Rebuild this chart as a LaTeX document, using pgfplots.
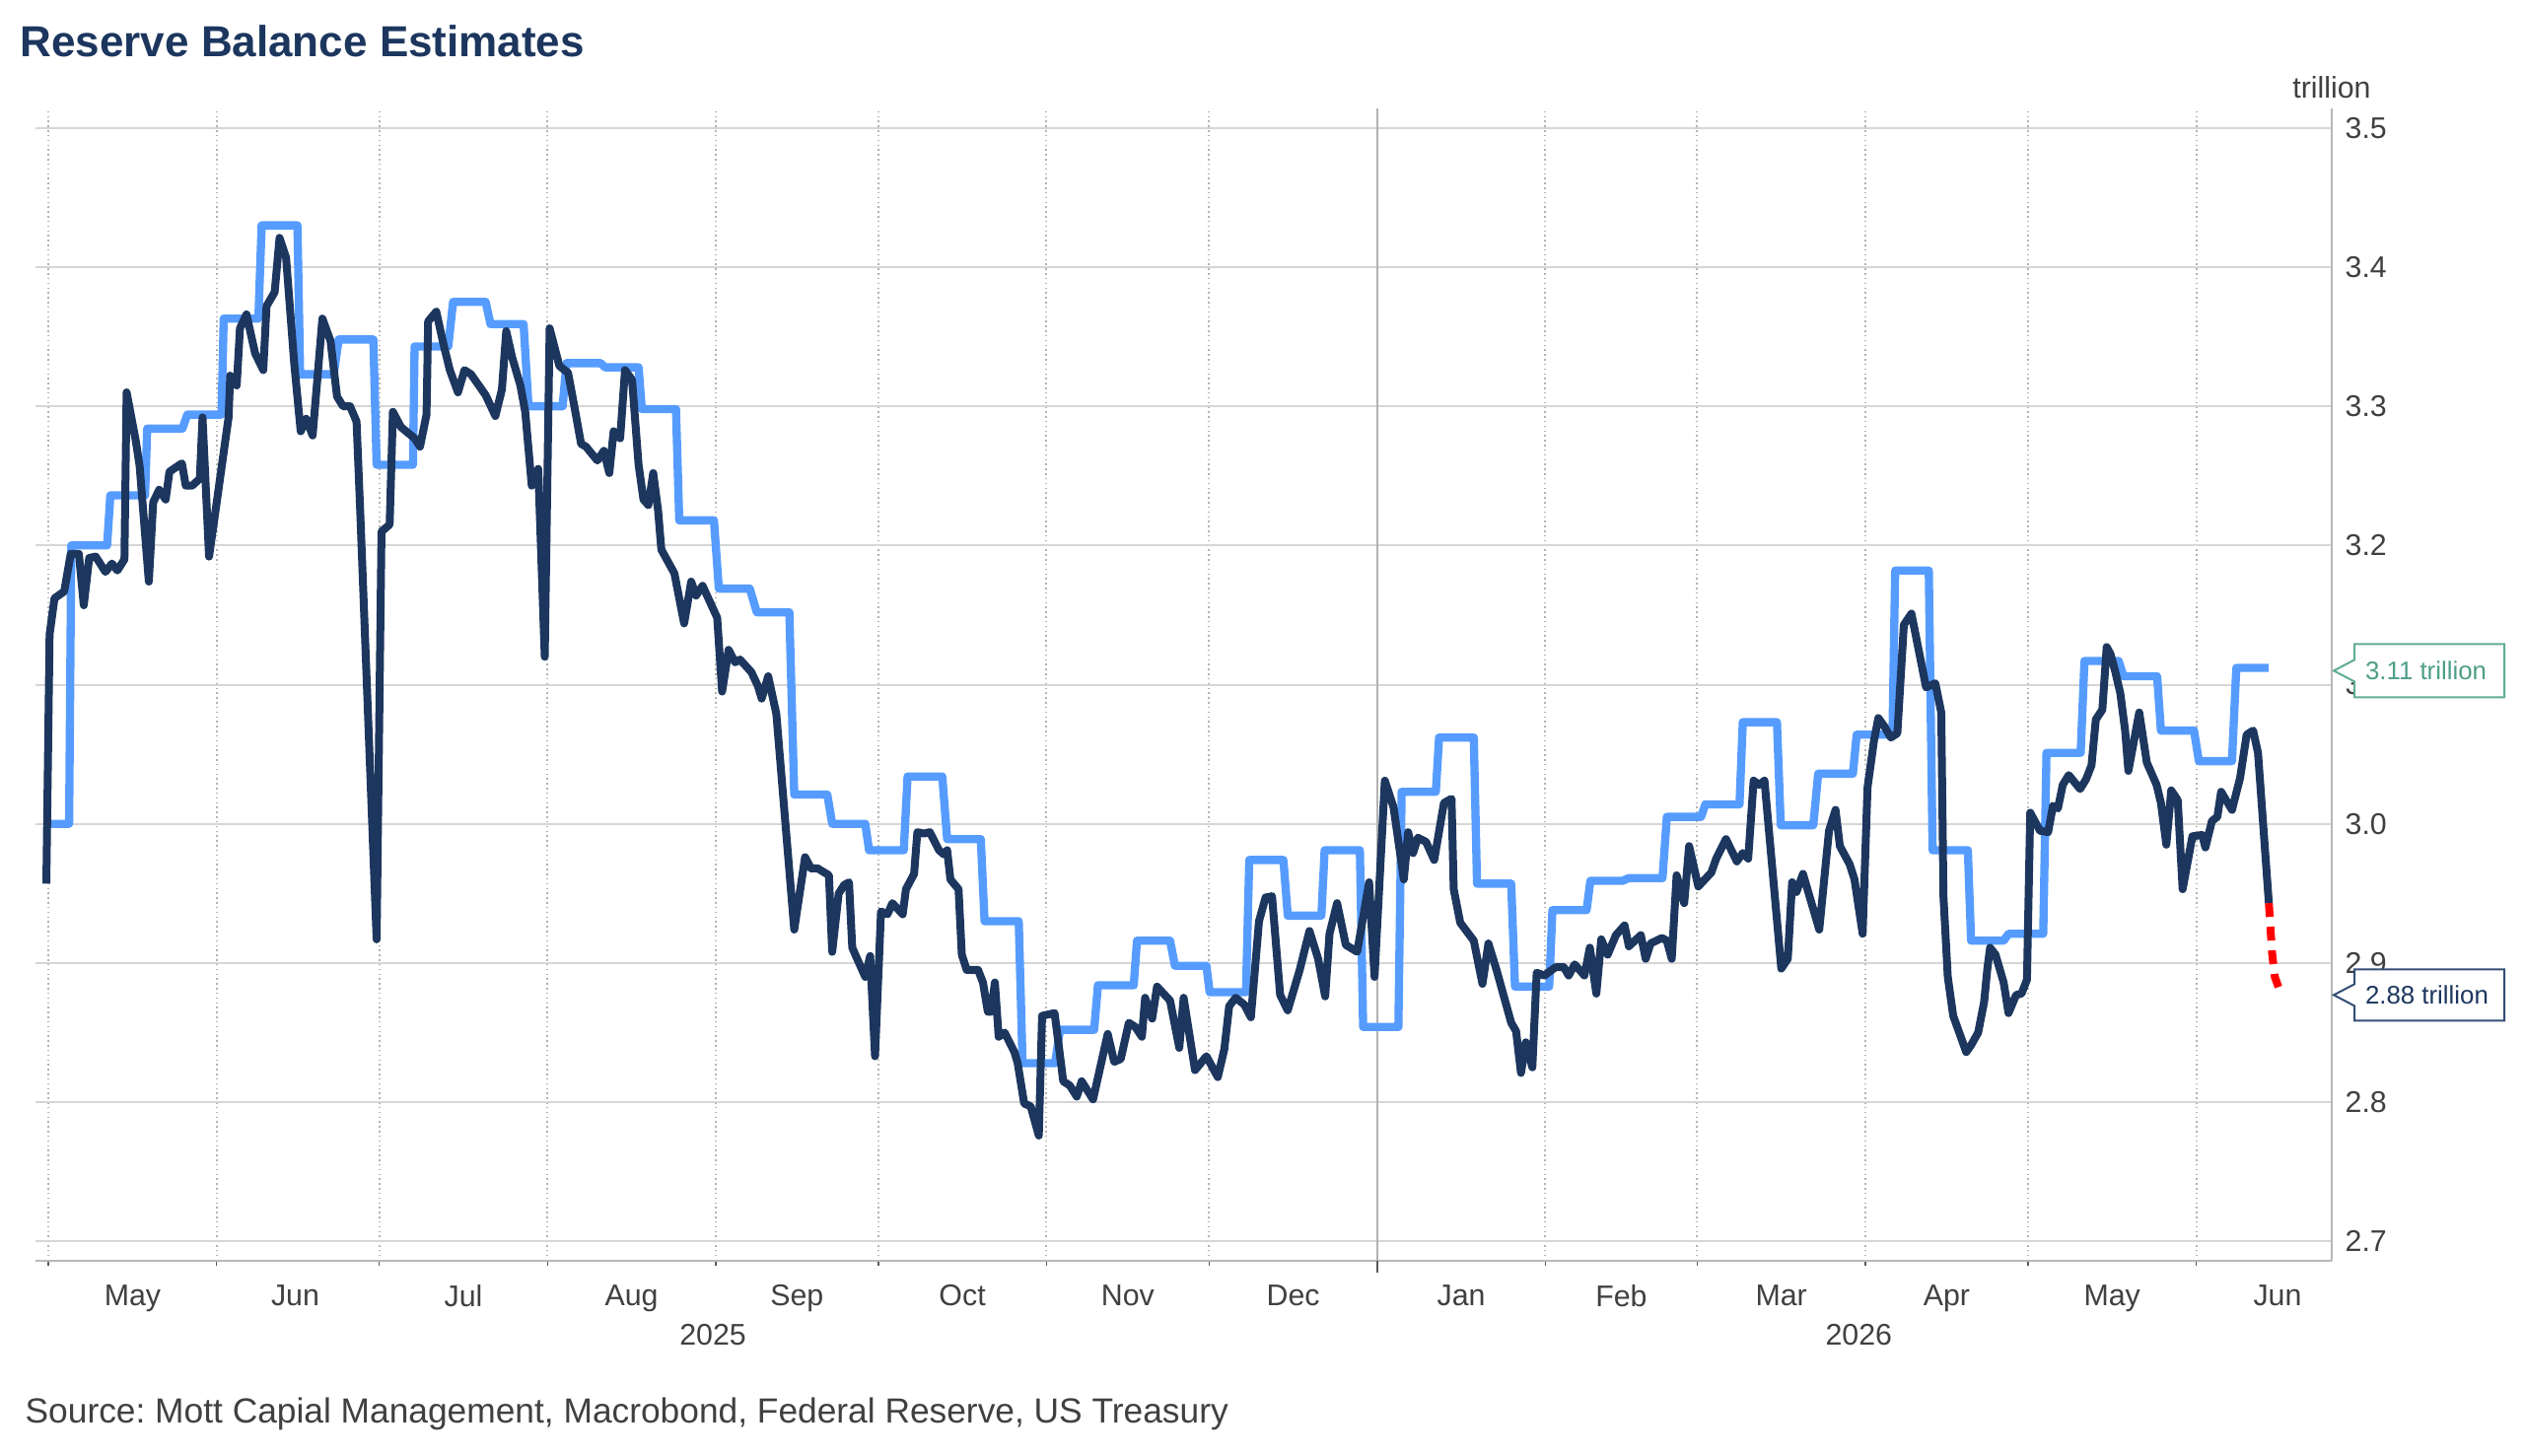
\documentclass[border=0pt]{standalone}
\usepackage{pgfplots}
\pgfplotsset{compat=1.18}
\usepackage{fontspec}
\setmainfont{Liberation Sans}
\frenchspacing
\definecolor{navy}{RGB}{28,54,94}
\definecolor{lblue}{RGB}{86,156,255}
\definecolor{gridc}{RGB}{214,214,214}
\definecolor{txt}{RGB}{64,64,64}
\definecolor{tealc}{RGB}{96,172,150}
\definecolor{tealt}{RGB}{78,158,136}
\definecolor{navyb}{RGB}{52,78,118}
\newcommand{\tickfont}{\fontsize{9.1}{11}\selectfont}
\begin{document}
\begin{tikzpicture}
\path[use as bounding box] (-10.8pt,-59.1pt) rectangle (757.2pt,383.7pt);
\begin{axis}[
  at={(0,0)}, anchor=south west,
  scale only axis, width=698.7pt, height=350.7pt,
  xmin=-2.4, xmax=421, ymin=2.686, ymax=3.514,
  axis x line=bottom, axis y line=right,
  x axis line style={-, draw=black!28, line width=0.6pt},
  y axis line style={-, draw=black!28, line width=0.6pt},
  xtick={15.5,45.5,76.5,107.5,138,168.5,199,229.5,260.5,290,319.5,350,380.5,411},
  xticklabels={May,Jun,Jul,Aug,Sep,Oct,Nov,Dec,Jan,Feb,Mar,Apr,May,Jun},
  minor xtick={0,31,61,92,123,153,184,214,245,276,304,335,365,396},
  ytick={2.7,2.8,2.9,3.0,3.1,3.2,3.3,3.4,3.5},
  tick align=outside,
  major tick length=0pt, minor tick length=1.6pt,
  minor tick style={draw=black!65, line width=0.45pt},
  xminorgrids=true, ymajorgrids=true, xmajorgrids=false,
  minor x grid style={draw=black!30, line width=0.6pt, dash pattern=on 0.45pt off 1pt},
  y grid style={draw=gridc, line width=0.6pt},
  /pgf/number format/assume math mode=true,
  yticklabel style={anchor=west, inner sep=0pt, xshift=3.9pt, font=\tickfont, text=txt,
    /pgf/number format/fixed, /pgf/number format/fixed zerofill, /pgf/number format/precision=1},
  xticklabel style={anchor=north, inner sep=0pt, yshift=-7.2pt, font=\tickfont, text=txt},
]
\draw[draw=black!30, line width=0.6pt] (axis cs:245,2.686) -- (axis cs:245,3.514);
\coordinate (janB) at (axis cs:245,2.686);
\coordinate (yr1) at (axis cs:122.5,2.686);
\coordinate (yr2) at (axis cs:333.8,2.686);
\coordinate (tA) at (axis cs:421,3.11);
\coordinate (tB) at (axis cs:421,2.877);
\coordinate (trl) at (axis cs:421,3.514);
% weekly estimate (light blue)
\addplot[color=lblue, line width=2.5pt, line join=round] coordinates {
(-0.4,3.0) (3.8,3.0) (4.2,3.2) (10.8,3.2) (11.4,3.236) (17.8,3.236) (18.2,3.284) (24.7,3.284)
(25.6,3.294) (31.9,3.294) (32.3,3.363) (38.7,3.363) (39.3,3.43) (45.9,3.43) (46.4,3.323) (52.6,3.323)
(53.5,3.348) (59.9,3.348) (60.5,3.258) (67.2,3.258) (67.5,3.343) (73.7,3.343) (74.6,3.375) (80.6,3.375)
(81.5,3.359) (87.6,3.359) (88.5,3.3) (94.8,3.3) (95.5,3.331) (101.8,3.331) (102.6,3.328) (108.8,3.328)
(109.4,3.298) (115.7,3.298) (116.3,3.218) (122.7,3.218) (123.6,3.169) (129.3,3.169) (130.6,3.152) (136.6,3.152)
(137.5,3.021) (143.6,3.021) (144.5,3.0) (150.6,3.0) (151.3,2.981) (157.7,2.981) (158.4,3.034) (164.8,3.034)
(165.7,2.989) (171.9,2.989) (172.6,2.930) (178.9,2.930) (179.6,2.828) (185.6,2.828) (186.5,2.852) (192.8,2.852)
(193.5,2.884) (200.1,2.884) (200.7,2.916) (206.8,2.916) (207.7,2.898) (213.5,2.898) (214.1,2.879) (220.8,2.879)
(221.4,2.974) (227.7,2.974) (228.5,2.934) (234.7,2.934) (235.3,2.981) (241.8,2.981) (242.4,2.854) (248.9,2.854)
(249.5,3.023) (255.8,3.023) (256.4,3.062) (262.8,3.062) (263.4,2.957) (269.7,2.957) (270.4,2.883) (276.7,2.883)
(277.3,2.938) (283.6,2.938) (284.3,2.959) (290.2,2.959) (291.4,2.961) (297.6,2.961) (298.4,3.005) (304.7,3.005)
(305.5,3.014) (311.8,3.014) (312.4,3.073) (318.7,3.073) (319.4,2.999) (325.4,2.999) (326.3,3.036) (332.7,3.036)
(333.4,3.064) (340.0,3.064) (340.5,3.182) (346.7,3.182) (347.4,2.981) (353.9,2.981) (354.5,2.916) (360.5,2.916)
(361.4,2.921) (367.8,2.921) (368.4,3.051) (374.7,3.051) (375.4,3.117) (381.7,3.117) (382.6,3.106) (388.8,3.106)
(389.5,3.067) (395.6,3.067) (396.5,3.045) (402.6,3.045) (403.4,3.112) (409.4,3.112)
};
% reserve balances (dark navy)
\addplot[color=navy, line width=2.4pt, line join=round] coordinates {
(-0.4,2.957) (0.2,3.136) (1.1,3.162) (2.9,3.167) (4.1,3.194) (5.6,3.194) (6.5,3.157) (7.5,3.191)
(8.7,3.192) (10.5,3.181) (11.7,3.187) (12.7,3.182) (14.0,3.190) (14.4,3.310) (16.1,3.275) (16.8,3.257)
(18.5,3.174) (19.3,3.231) (20.4,3.240) (21.6,3.233) (22.3,3.253) (24.6,3.259) (25.3,3.243) (26.5,3.243)
(27.9,3.248) (28.4,3.292) (29.6,3.192) (30.8,3.225) (33.2,3.292) (33.5,3.322) (34.7,3.315) (35.3,3.356)
(36.5,3.366) (38.1,3.338) (39.6,3.326) (40.2,3.372) (41.7,3.382) (42.6,3.421) (43.8,3.407) (45.3,3.331)
(46.5,3.282) (47.5,3.291) (48.7,3.279) (50.5,3.363) (52.0,3.347) (53.2,3.307) (54.3,3.300) (55.6,3.300)
(56.8,3.289) (57.5,3.222) (60.5,2.917) (61.4,3.210) (62.9,3.215) (63.5,3.296) (65.0,3.285) (67.5,3.277)
(68.5,3.271) (69.7,3.294) (70.0,3.361) (71.5,3.368) (72.8,3.345) (74.0,3.326) (75.5,3.310) (76.7,3.326)
(77.9,3.323) (80.6,3.308) (82.4,3.293) (83.6,3.312) (84.4,3.354) (85.5,3.335) (87.0,3.315) (87.9,3.296)
(89.1,3.243) (90.3,3.255) (91.5,3.120) (92.4,3.356) (94.2,3.329) (95.8,3.324) (97.0,3.299) (98.2,3.273)
(99.1,3.271) (101.2,3.261) (102.4,3.268) (103.4,3.252) (104.2,3.282) (105.4,3.277) (106.3,3.326) (107.6,3.319)
(108.8,3.258) (109.7,3.233) (110.6,3.229) (111.5,3.252) (112.4,3.225) (113.0,3.197) (115.4,3.180) (117.2,3.144)
(118.5,3.174) (119.4,3.164) (120.6,3.171) (123.3,3.148) (124.2,3.095) (125.4,3.125) (126.6,3.116) (127.5,3.118)
(129.6,3.109) (130.8,3.099) (131.5,3.090) (132.7,3.106) (134.2,3.079) (137.5,2.924) (139.5,2.976) (140.6,2.968)
(141.8,2.968) (143.9,2.963) (144.5,2.908) (145.7,2.950) (146.7,2.956) (147.6,2.958) (148.2,2.911) (149.1,2.903)
(150.6,2.890) (151.5,2.905) (152.4,2.833) (153.5,2.937) (154.7,2.935) (155.6,2.943) (157.5,2.935) (158.1,2.953)
(159.6,2.964) (160.2,2.994) (161.4,2.993) (162.5,2.994) (164.2,2.981) (165.1,2.978) (165.7,2.981) (166.3,2.960)
(167.8,2.953) (168.4,2.906) (169.3,2.895) (171.4,2.895) (172.3,2.886) (173.2,2.865) (173.8,2.865) (174.5,2.886)
(175.2,2.847) (176.3,2.850) (178.1,2.836) (178.7,2.828) (179.9,2.799) (181.1,2.797) (182.6,2.776) (183.2,2.862)
(185.5,2.864) (186.2,2.843) (187.1,2.815) (188.3,2.812) (189.6,2.804) (190.5,2.815) (192.6,2.802) (195.3,2.849)
(196.5,2.829) (197.7,2.831) (199.2,2.857) (200.4,2.854) (201.6,2.847) (202.2,2.875) (203.5,2.860) (204.4,2.883)
(206.8,2.873) (208.5,2.839) (209.3,2.875) (211.4,2.823) (213.5,2.833) (215.6,2.818) (216.8,2.838) (217.7,2.869)
(218.9,2.875) (220.5,2.870) (221.7,2.861) (223.2,2.930) (224.4,2.947) (225.6,2.948) (227.1,2.877) (228.5,2.866)
(230.7,2.895) (232.5,2.923) (234.1,2.903) (235.4,2.876) (236.2,2.921) (237.6,2.943) (239.2,2.913) (241.3,2.908)
(243.5,2.958) (244.5,2.890) (246.4,3.031) (248.0,3.012) (249.9,2.960) (250.7,2.994) (251.6,2.979) (252.5,2.990)
(254.0,2.987) (255.5,2.974) (257.3,3.015) (258.7,3.018) (259.1,2.953) (260.3,2.929) (262.8,2.916) (264.4,2.885)
(265.5,2.914) (267.0,2.895) (269.7,2.857) (270.6,2.851) (271.5,2.821) (272.4,2.843) (273.6,2.825) (274.4,2.893)
(275.8,2.891) (277.9,2.897) (279.4,2.897) (280.3,2.891) (281.4,2.899) (283.2,2.891) (284.2,2.911) (285.4,2.878)
(286.3,2.917) (287.5,2.906) (289.0,2.920) (290.6,2.927) (291.4,2.912) (293.6,2.920) (294.5,2.903) (295.4,2.914)
(297.5,2.918) (298.4,2.916) (299.3,2.903) (300.2,2.963) (301.6,2.943) (302.5,2.984) (304.2,2.955) (306.6,2.965)
(307.5,2.975) (309.3,2.989) (311.3,2.973) (312.4,2.979) (313.4,2.975) (314.4,3.031) (315.4,3.028) (316.4,3.031)
(319.5,2.896) (320.7,2.903) (321.5,2.958) (322.3,2.951) (323.5,2.964) (326.5,2.924) (328.3,2.995) (329.5,3.010)
(330.3,2.984) (332.1,2.971) (333.0,2.960) (334.5,2.921) (335.4,3.026) (336.6,3.060) (337.4,3.076) (338.5,3.070)
(339.7,3.062) (340.9,3.065) (342.1,3.143) (343.5,3.151) (346.2,3.098) (347.9,3.101) (349.0,3.080) (349.4,2.948)
(350.2,2.890) (351.2,2.862) (352.5,2.848) (353.6,2.836) (354.5,2.841) (355.8,2.850) (356.9,2.872) (357.5,2.896)
(358.0,2.911) (359.0,2.906) (360.5,2.886) (361.4,2.864) (362.8,2.877) (363.8,2.878) (364.8,2.888) (365.4,3.008)
(367.2,2.995) (368.7,2.994) (369.6,3.013) (370.5,3.011) (371.4,3.028) (372.5,3.035) (374.6,3.025) (375.7,3.032)
(376.7,3.042) (377.5,3.075) (378.7,3.082) (379.5,3.127) (380.2,3.122) (381.1,3.109) (382.0,3.094) (382.9,3.067)
(383.5,3.038) (385.5,3.080) (386.9,3.044) (388.7,3.028) (389.5,3.015) (390.5,2.985) (391.4,3.024) (392.6,3.017)
(393.5,2.953) (395.3,2.991) (397.1,2.992) (397.7,2.983) (398.9,3.002) (399.9,3.005) (400.6,3.023) (402.6,3.010)
(404.1,3.033) (405.3,3.064) (406.5,3.067) (407.4,3.051) (409.4,2.943)
};
% projection (red dashed)
\addplot[color=red, line width=2.4pt, dash pattern=on 4.2pt off 3pt] coordinates {
(409.4,2.943) (410.0,2.907) (410.5,2.890) (411.7,2.877)
};
\end{axis}
% Jan tick (longer)
\draw[draw=black!65, line width=0.5pt] (janB) -- ++(0,-3.6pt);
% year labels
\node[anchor=north, inner sep=0pt, font=\tickfont, text=txt] at ([yshift=-19.2pt]yr1) {2025};
\node[anchor=north, inner sep=0pt, font=\tickfont, text=txt] at ([yshift=-19.2pt]yr2) {2026};
% unit label
\node[anchor=base, inner sep=0pt, font=\tickfont, text=txt] at ([yshift=3pt]trl) {trillion};
% title and source
\node[anchor=base west, inner sep=0pt, font=\fontsize{13.2}{16}\selectfont\bfseries, text=navy] at (-4.8pt,366.3pt) {Reserve Balance Estimates};
\node[anchor=base west, inner sep=0pt, font=\fontsize{10.6}{13}\selectfont, text=txt] at (-3.3pt,-49.2pt) {Source: Mott Capial Management, Macrobond, Federal Reserve, US Treasury};
% value labels
\draw[draw=tealc, fill=white, line width=0.6pt] ([xshift=0.6pt]tA) -- ++(6.3pt,3.3pt) -- ++(0,4.8pt) -- ++(45.6pt,0) -- ++(0,-16.2pt) -- ++(-45.6pt,0) -- ++(0,4.8pt) -- cycle;
\node[anchor=west, inner sep=0pt, font=\fontsize{7.75}{9}\selectfont, text=tealt] at ([xshift=10pt]tA) {3.11 trillion};
\draw[draw=navyb, fill=white, line width=0.6pt] ([xshift=0.6pt]tB) -- ++(6.3pt,3.3pt) -- ++(0,4.5pt) -- ++(45.6pt,0) -- ++(0,-15.6pt) -- ++(-45.6pt,0) -- ++(0,4.5pt) -- cycle;
\node[anchor=west, inner sep=0pt, font=\fontsize{7.75}{9}\selectfont, text=navy] at ([xshift=10pt]tB) {2.88 trillion};
\end{tikzpicture}
\end{document}
